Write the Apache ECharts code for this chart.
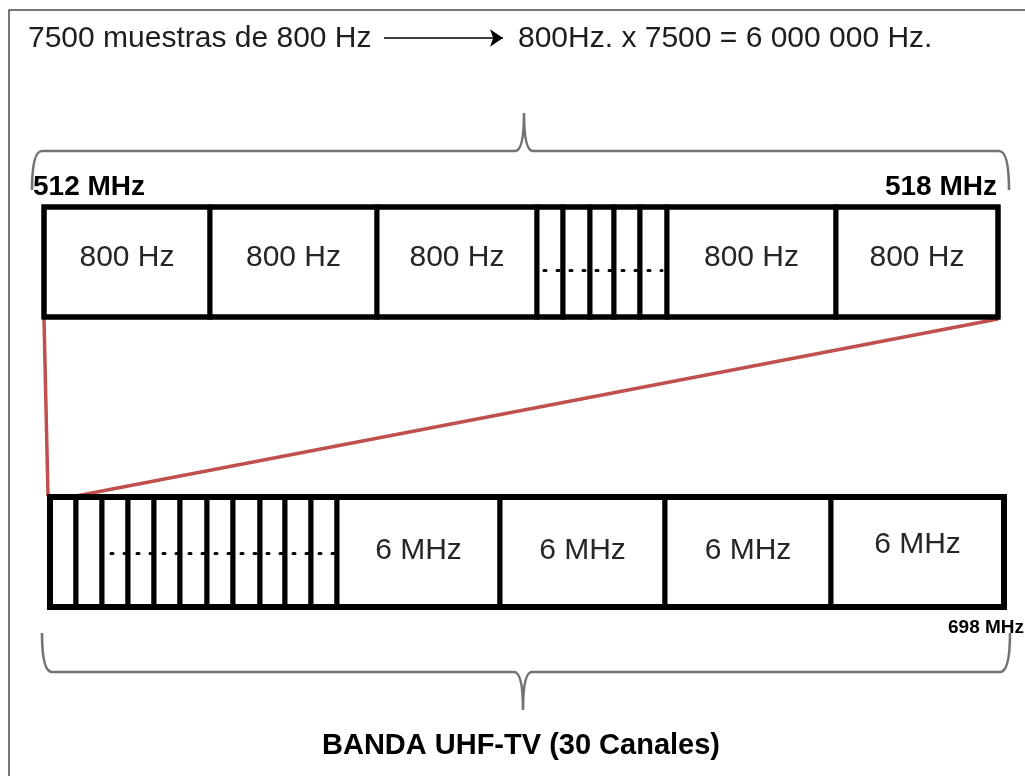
<!DOCTYPE html>
<html>
<head>
<meta charset="utf-8">
<script src="https://cdn.jsdelivr.net/npm/echarts@6/dist/echarts.min.js"></script>
<style>
  html, body { margin: 0; padding: 0; background: #fff; }
  #main { width: 1025px; height: 776px; }
</style>
</head>
<body>
<div id="main"></div>
<script>
// diagram units = page pixels (x right, y down)
const topEdges = [44, 210, 377, 537, 563, 590, 614, 640, 667, 836, 998]
const topLabels = ['800 Hz', '800 Hz', '800 Hz', '', '', '', '', '', '800 Hz', '800 Hz']
const topBand = [207, 317]
const topLabelY = 258

const bottomEdges = [50, 76, 102, 128, 154, 180, 207, 233, 260, 285, 311, 337, 500, 665, 831, 1004]
const bottomLabels = ['', '', '', '', '', '', '', '', '', '', '', '6 MHz', '6 MHz', '6 MHz', '6 MHz']
const bottomBand = [497, 607]
const bottomLabelY = [0, 0, 0, 0, 0, 0, 0, 0, 0, 0, 0, 551, 551, 551, 545]

// braces: [left x, middle x, right x, line y, tip y, end y]
const topBrace = [32, 524, 1009, 151, 113, 190]
const bottomBrace = [42, 523, 1010, 672, 710, 633]

// dotted fillers inside the narrow cells
const dotLines = [[[544, 270], [662, 270]], [[111, 553], [336, 553]]]
// zoom lines (red)
const zoomLines = [[[44, 319], [48, 496]], [[998, 319], [76, 496]]]
const arrowLine = [[[384, 38], [503, 38]]]
const frameLines = [[[8.5, 10], [8.5, 776]], [[8.5, 10], [1025, 10]]]

// [text, x, y, align]
const headTexts = [['7500 muestras de 800 Hz', 28, 39, 'left'], ['800Hz. x 7500 = 6 000 000 Hz.', 518, 39, 'left']]
const freqTexts = [['512 MHz', 33, 187, 'left'], ['518 MHz', 997, 187, 'right']]
const freqSmall = [['698 MHz', 948, 628, 'left']]
const bandTitle = [['BANDA UHF-TV (30 Canales)', 521, 746, 'center']]

const FONT = '"Liberation Sans", Arial, sans-serif'

const chart = echarts.init(document.getElementById('main'))

//小格子+标签
const cellSeries = (edges, band, labels, labelY, lw) => ({
  type: 'custom',
  silent: true,
  data: edges.slice(1).map((e, i) => [edges[i], band[0]]),
  renderItem: (params, api) => {
    const i = params.dataIndex
    const p0 = api.coord([edges[i], band[0]])
    const p1 = api.coord([edges[i + 1], band[1]])
    const children = [{
      type: 'rect',
      shape: { x: p0[0], y: p0[1], width: p1[0] - p0[0], height: p1[1] - p0[1] },
      style: { fill: '#fff', stroke: '#000', lineWidth: lw }
    }]
    if (labels[i]) {
      const ly = Array.isArray(labelY) ? labelY[i] : labelY
      const c = api.coord([(edges[i] + edges[i + 1]) / 2, ly])
      children.push({
        type: 'text',
        x: c[0], y: c[1],
        style: {
          text: labels[i], fill: '#262626', font: '30px ' + FONT,
          align: 'center', verticalAlign: 'middle'
        }
      })
    }
    return { type: 'group', children }
  }
})

//外框
const frameSeries = (edges, band, lw) => ({
  type: 'custom',
  silent: true,
  data: [[edges[0], band[0]]],
  renderItem: (params, api) => {
    const p0 = api.coord([edges[0], band[0]])
    const p1 = api.coord([edges[edges.length - 1], band[1]])
    return {
      type: 'rect',
      shape: { x: p0[0], y: p0[1], width: p1[0] - p0[0], height: p1[1] - p0[1] },
      style: { fill: 'none', stroke: '#000', lineWidth: lw }
    }
  }
})

//大括号
const braceSeries = (b) => ({
  type: 'custom',
  silent: true,
  data: [[b[1], b[3]]],
  renderItem: (params, api) => {
    const L = api.coord([b[0], b[5]])
    const M = api.coord([b[1], b[3]])
    const T = api.coord([b[1], b[4]])
    const R = api.coord([b[2], b[5]])
    const yl = M[1], r = 10, t = 9
    const d = [
      'M', L[0], L[1], 'Q', L[0], yl, L[0] + r, yl,
      'L', M[0] - t, yl, 'Q', M[0], yl, T[0], T[1],
      'Q', M[0], yl, M[0] + t, yl,
      'L', R[0] - r, yl, 'Q', R[0], yl, R[0], R[1]
    ].join(' ')
    return {
      type: 'path',
      shape: { pathData: d },
      style: { fill: 'none', stroke: '#737373', lineWidth: 2.6 }
    }
  }
})

//文字
const textSeries = (data, font, color) => ({
  type: 'custom',
  silent: true,
  data: data.map(d => [d[1], d[2]]),
  renderItem: (params, api) => {
    const d = data[params.dataIndex]
    const c = api.coord([d[1], d[2]])
    return {
      type: 'text',
      x: c[0], y: c[1],
      style: { text: d[0], fill: color, font: font + ' ' + FONT, align: d[3], verticalAlign: 'middle' }
    }
  }
})

chart.setOption({
  animation: false,
  backgroundColor: '#fff',
  grid: { left: 0, right: 0, top: 0, bottom: 0 },
  xAxis: { type: 'value', min: 0, max: 1025, show: false },
  yAxis: { type: 'value', min: 0, max: 776, inverse: true, show: false },
  series: [
    {
      type: 'lines', coordinateSystem: 'cartesian2d', silent: true,
      data: frameLines.map(c => ({ coords: c })),
      lineStyle: { color: '#4a4a4a', width: 1.5, opacity: 1 }
    },
    {
      type: 'lines', coordinateSystem: 'cartesian2d', silent: true,
      data: arrowLine.map(c => ({ coords: c })),
      symbol: ['none', 'arrow'], symbolSize: 13,
      lineStyle: { color: '#000', width: 1.5, opacity: 1 }
    },
    braceSeries(topBrace),
    braceSeries(bottomBrace),
    {
      type: 'lines', coordinateSystem: 'cartesian2d', silent: true,
      data: zoomLines.map(c => ({ coords: c })),
      lineStyle: { color: '#c0504d', width: 3.5, opacity: 1 }
    },
    cellSeries(topEdges, topBand, topLabels, topLabelY, 5),
    frameSeries(topEdges, topBand, 5),
    cellSeries(bottomEdges, bottomBand, bottomLabels, bottomLabelY, 5),
    frameSeries(bottomEdges, bottomBand, 6),
    {
      type: 'lines', coordinateSystem: 'cartesian2d', silent: true,
      data: dotLines.map(c => ({ coords: c })),
      lineStyle: { color: '#000', width: 3, type: [2, 11], cap: 'round', opacity: 1 }
    },
    textSeries(headTexts, '30px', '#1e1e1e'),
    textSeries(freqTexts, 'bold 28px', '#000'),
    textSeries(freqSmall, 'bold 19px', '#000'),
    textSeries(bandTitle, 'bold 29px', '#000')
  ]
})
</script>
</body>
</html>
